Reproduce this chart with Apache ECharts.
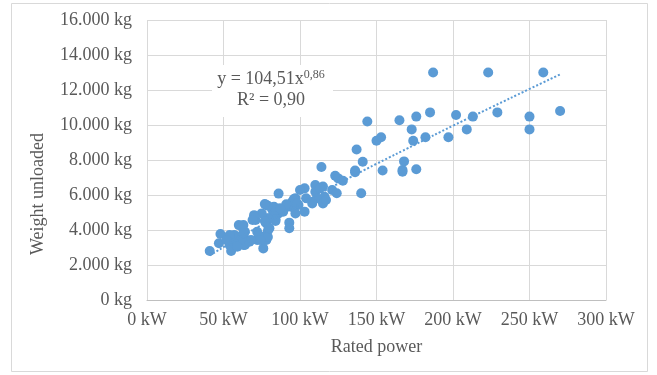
<!DOCTYPE html>
<html><head><meta charset="utf-8">
<script src="https://cdn.jsdelivr.net/npm/echarts@6/dist/echarts.min.js"></script>
<style>html,body{margin:0;padding:0;background:#fff}#c{width:657px;height:375px}</style>
</head><body><div id="c"></div>
<script>
const xTickLabels = ['0 kW','50 kW','100 kW','150 kW','200 kW','250 kW','300 kW'];
const yTickLabels = ['0 kg','2.000 kg','4.000 kg','6.000 kg','8.000 kg','10.000 kg','12.000 kg','14.000 kg','16.000 kg'];

// Rated power (kW) and unloaded weight (kg), paired by index
const powerKW = [
  136,136,137,140,141,144,150,153,154,165,167,167,168,173,174,176,176,182,185,187,197,202,209,213,223,229,250,250,259,270,
  114,123,125,128,121,124,110,115,103,100,110,116,111,108,115,117,103,113,104,
  97,95,99,97,90,86,82,78,80,86,93,93,96,94,89,83,83,84,79,77,78,79,71,72,75,72,65,67,62,63,56,54,58,53,64,78,79,75,70,70,60,63,48,47,41,55,76,57,73,62,79,74,80,77,69,68,64,61,63,54,52,57,59,91,87,98,84
];
const weightKg = [
  7400,7300,8600,6100,7900,10200,9100,9300,7400,10270,7330,7430,7920,9750,9100,10480,7470,9300,10720,13000,9300,10570,9750,10480,13000,10720,10480,9750,13000,10800,
  7600,7100,6950,6820,6290,6100,6570,6480,6380,6290,6190,5900,5810,5520,5520,5710,5050,6380,5810,
  5810,5620,5430,4950,5240,4950,5140,5430,4670,6080,4420,4100,5770,5330,5050,5050,5330,4610,5390,5480,4380,3960,4570,3900,3620,3430,3430,3330,3520,3140,3330,3140,3660,3430,3900,3430,4670,4950,4760,4850,4280,4280,3770,3240,2800,2800,2950,3710,3710,4190,3600,3430,4100,4510,4570,3430,3140,3430,3810,3710,3430,3240,3050,5470,5240,5520,4510
];

// Dotted power-law trendline
const trendPowerKW = [41,60,80,100,125,150,175,200,225,250,270];
const trendWeightKg = [2550,3535,4530,5480,6650,7780,8870,9960,11010,12060,12890];

const equationMain = 'y = 104,51x';
const equationExp = '0,86';
const rSquaredText = 'R² = 0,90';
const xAxisTitle = 'Rated power';
const yAxisTitle = 'Weight unloaded';

const FONT = 'Liberation Serif';
const TXT = '#595959';
const BLUE = '#5b9bd5';
const GRID = '#d9d9d9';

const points = powerKW.map((p, i) => [p, weightKg[i]]);
const trend = trendPowerKW.map((p, i) => [p, trendWeightKg[i]]);

const chart = echarts.init(document.getElementById('c'), null, {renderer: 'canvas'});
chart.setOption({
  animation: false,
  backgroundColor: '#fff',
  grid: {left: 147, right: 51, top: 20, bottom: 75, containLabel: false},
  xAxis: {
    type: 'value', min: 0, max: 300, interval: 50,
    name: xAxisTitle, nameLocation: 'middle', nameGap: 38,
    nameTextStyle: {fontFamily: FONT, fontSize: 18, color: TXT},
    axisLine: {show: true, lineStyle: {color: '#bfbfbf', width: 1}},
    axisTick: {show: false},
    axisLabel: {margin: 11, fontFamily: FONT, fontSize: 18, color: TXT,
      formatter: v => xTickLabels[Math.round(v / 50)]},
    splitLine: {show: true, lineStyle: {color: GRID, width: 1}}
  },
  yAxis: {
    type: 'value', min: 0, max: 16000, interval: 2000,
    axisLine: {show: false},
    axisTick: {show: false},
    axisLabel: {margin: 15, fontFamily: FONT, fontSize: 18, color: TXT,
      formatter: v => yTickLabels[Math.round(v / 2000)]},
    splitLine: {show: true, lineStyle: {color: GRID, width: 1}}
  },
  series: [
    {type: 'scatter', data: points, symbol: 'circle', symbolSize: 10,
     itemStyle: {color: BLUE, opacity: 1}, z: 2},
    {type: 'line', data: trend, showSymbol: false, symbol: 'none', smooth: true,
     lineStyle: {color: BLUE, width: 2, type: 'dotted'}, z: 3}
  ],
  graphic: [
    {type: 'rect', shape: {x: 11.5, y: 3.5, width: 636, height: 368},
     style: {fill: 'none', stroke: GRID, lineWidth: 1}, z: 1, silent: true},
    {type: 'rect', shape: {x: 212, y: 65, width: 121, height: 52},
     style: {fill: '#fff'}, z: 10, silent: true},
    {type: 'text', x: 271, y: 90, z: 11, silent: true,
     style: {
       text: '{m|' + equationMain + '}{s|' + equationExp + '}\n{m|' + rSquaredText + '}',
       align: 'center', verticalAlign: 'middle',
       rich: {
         m: {fontFamily: FONT, fontSize: 18, lineHeight: 21, fill: TXT, color: TXT},
         s: {fontFamily: FONT, fontSize: 12, lineHeight: 12, verticalAlign: 'top', fill: TXT, color: TXT}
       }
     }},
    {type: 'text', x: 38, y: 194, rotation: Math.PI / 2, z: 11, silent: true,
     style: {text: yAxisTitle, align: 'center', verticalAlign: 'middle',
       fontFamily: FONT, fontSize: 18, fill: TXT}}
  ]
});
</script></body></html>
